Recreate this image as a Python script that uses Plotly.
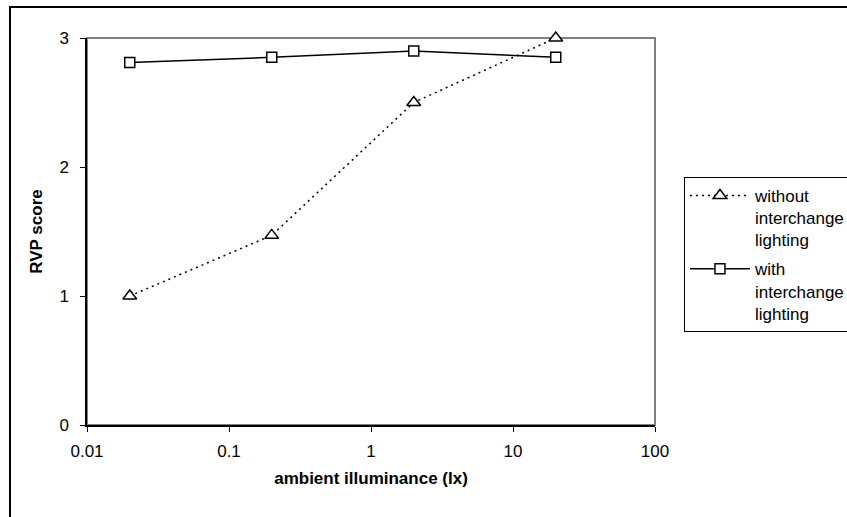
import plotly.graph_objects as go

# Ambient illuminance (lx) and RVP scores for the two lighting conditions
illuminance = [0.02, 0.2, 2, 20]
rvp_without = [1.0, 1.47, 2.5, 3.0]
rvp_with = [2.81, 2.85, 2.9, 2.85]

x_ticks = [0.01, 0.1, 1, 10, 100]
x_tick_labels = ["0.01", "0.1", "1", "10", "100"]
y_ticks = [0, 1, 2, 3]

FONT = "Liberation Sans, Arial, sans-serif"

fig = go.Figure()

fig.add_trace(go.Scatter(
    x=illuminance, y=rvp_without, mode="lines+markers",
    name="without<br>interchange<br>lighting",
    legendgroup="without",
    cliponaxis=False,
    line=dict(color="black", width=1.5, dash="2px,4px"),
    marker=dict(symbol="triangle-up", size=12, color="white",
                line=dict(color="black", width=1.5)),
))
fig.add_trace(go.Scatter(
    x=illuminance, y=rvp_with, mode="lines+markers",
    name="with<br>interchange<br>lighting",
    legendgroup="with",
    cliponaxis=False,
    line=dict(color="black", width=1.5),
    marker=dict(symbol="square", size=10, color="white",
                line=dict(color="black", width=1.5)),
))

# outer chart frame
fig.add_shape(type="rect", xref="paper", yref="paper",
              x0=-0.1356, x1=1.6, y0=-0.4, y1=1.080,
              line=dict(color="black", width=2), layer="below")
# plot area frame
fig.add_shape(type="rect", xref="paper", yref="paper",
              x0=0, x1=1, y0=0, y1=1,
              line=dict(color="#808080", width=2), layer="below")

fig.update_layout(
    width=847, height=517,
    margin=dict(l=87, r=192, t=38, b=92, autoexpand=False),
    paper_bgcolor="white", plot_bgcolor="white",
    font=dict(family=FONT, color="black", size=17),
    showlegend=True,
    legend=dict(
        x=1.051, y=0.641, xanchor="left", yanchor="top",
        bordercolor="black", borderwidth=1, bgcolor="white",
        font=dict(family=FONT, size=17, color="black"),
        itemwidth=60, valign="top",
        traceorder="grouped", tracegroupgap=4,
    ),
    xaxis=dict(
        type="log", range=[-2, 2],
        tickvals=x_ticks, ticktext=x_tick_labels,
        ticks="outside", ticklen=5, tickcolor="black",
        showline=True, linecolor="black", linewidth=1.5,
        showgrid=False, zeroline=False,
        ticklabelstandoff=5,
        title=dict(text="<b>ambient illuminance (lx)</b>",
                   font=dict(size=17), standoff=12),
    ),
    yaxis=dict(
        range=[0, 3], tickvals=y_ticks,
        ticks="outside", ticklen=5, tickcolor="black",
        showline=True, linecolor="black", linewidth=1.5,
        showgrid=False, zeroline=False,
        ticklabelstandoff=8,
        title=dict(text="<b>RVP score</b>", font=dict(size=17), standoff=12),
    ),
)

fig.write_html("out.html")
